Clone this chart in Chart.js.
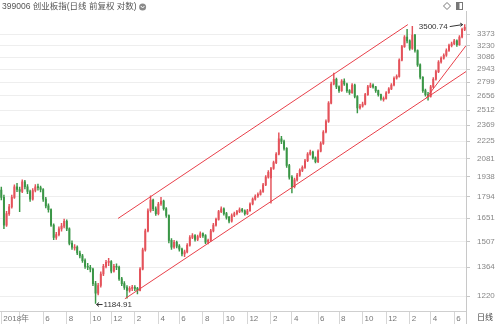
<!DOCTYPE html>
<html>
<head>
<meta charset="utf-8">
<title>399006 创业板指</title>
<script src="https://cdn.jsdelivr.net/npm/chart.js@4.4.1/dist/chart.umd.min.js"></script>
<style>
  html, body { margin: 0; padding: 0; background: #fff; }
  #c { display: block; }
</style>
</head>
<body>
<canvas id="c" width="500" height="324"></canvas>
<script>
// weekly candles, Feb 2018 .. Jun 2021
const opens = [
  1840,1790,1607,1680,1725,1790,1865,1845,1831,1900,
  1865,1831,1777,1838,1865,1858,1845,1777,1731,1706,
  1607,1531,1548,1583,1600,1631,1583,1497,1470,1475,
  1442,1426,1400,1369,1364,1354,1280,1233,1271,1329,
  1369,1390,1395,1344,1369,1364,1304,1280,1261,1247,
  1257,1261,1257,1247,1354,1459,1571,1699,1770,1712,
  1680,1744,1764,1712,1668,1514,1475,1503,1481,1464,
  1437,1448,1486,1531,1542,1520,1537,1554,1542,1503,
  1514,1571,1607,1643,1693,1712,1680,1656,1631,1668,
  1680,1693,1706,1699,1680,1699,1744,1777,1797,1811,
  1831,1879,1936,1930,2002,2048,2117,2247,2223,2165,
  2025,1936,1865,1915,1951,1987,2010,2063,2117,2133,
  2086,2055,2141,2206,2307,2403,2580,2779,2831,2748,
  2708,2810,2779,2708,2687,2769,2648,2532,2551,2570,
  2667,2748,2769,2748,2708,2667,2615,2628,2687,2728,
  2769,2842,2863,3050,3214,3336,3286,3190,3360,3166,
  2994,2853,2708,2667,2648,2748,2831,2917,3027,3073,
  3108,3166,3226,3250,3286,3238,3336,3437
];
const highs = [
  1862,1805,1695,1742,1806,1878,1889,1862,1915,1912,
  1880,1840,1852,1880,1884,1870,1852,1790,1745,1712,
  1615,1562,1596,1618,1645,1640,1590,1512,1490,1482,
  1452,1435,1410,1385,1375,1360,1292,1282,1340,1380,
  1402,1412,1400,1380,1382,1370,1312,1290,1270,1266,
  1272,1270,1262,1362,1470,1582,1712,1800,1778,1725,
  1755,1790,1770,1720,1672,1525,1515,1510,1490,1470,
  1458,1495,1542,1555,1548,1546,1566,1560,1548,1522,
  1580,1618,1652,1702,1725,1718,1688,1662,1678,1690,
  1702,1718,1715,1705,1708,1752,1786,1808,1822,1842,
  1890,1948,1986,2010,2060,2130,2300,2268,2235,2172,
  2035,1948,1928,1965,2000,2022,2075,2130,2150,2142,
  2095,2152,2220,2320,2418,2595,2800,2900,2845,2760,
  2828,2835,2788,2720,2785,2778,2656,2568,2590,2680,
  2765,2790,2782,2755,2715,2672,2645,2700,2742,2785,
  2858,2880,3065,3230,3355,3437,3300,3476,3372,3175,
  3005,2862,2725,2690,2765,2850,2935,3045,3090,3125,
  3185,3245,3272,3305,3298,3355,3455,3500.74
];
const lows = [
  1772,1585,1598,1668,1716,1782,1830,1693,1822,1850,
  1815,1762,1770,1828,1840,1828,1762,1718,1690,1598,
  1518,1520,1540,1570,1590,1572,1488,1462,1458,1432,
  1415,1390,1358,1352,1340,1270,1184.91,1225,1262,1320,
  1360,1372,1335,1338,1352,1296,1270,1252,1210,1238,
  1246,1245,1230,1244,1350,1452,1565,1690,1700,1668,
  1672,1735,1702,1655,1500,1462,1468,1470,1452,1425,
  1421,1442,1480,1525,1510,1512,1530,1532,1495,1494,
  1508,1565,1600,1638,1686,1670,1645,1620,1625,1660,
  1672,1686,1690,1670,1674,1694,1738,1770,1790,1805,
  1825,1872,1928,1750,1995,2040,2110,2205,2150,2010,
  1920,1820,1856,1906,1942,1978,2002,2055,2108,2075,
  2045,2048,2135,2198,2298,2395,2572,2770,2730,2690,
  2700,2765,2690,2668,2680,2632,2485,2520,2540,2562,
  2658,2740,2735,2690,2650,2610,2600,2620,2680,2720,
  2760,2832,2855,3040,3205,3260,3170,3180,3145,2975,
  2835,2690,2650,2610,2640,2738,2820,2905,3015,3060,
  3095,3155,3210,3238,3215,3228,3325,3420
];
const closes = [
  1790,1607,1680,1725,1790,1865,1845,1831,1900,1865,
  1831,1777,1838,1865,1858,1845,1777,1731,1706,1607,
  1531,1548,1583,1600,1631,1583,1497,1475,1475,1442,
  1426,1400,1369,1364,1354,1280,1233,1271,1329,1369,
  1390,1395,1344,1369,1364,1304,1280,1261,1247,1257,
  1261,1257,1247,1354,1459,1571,1699,1770,1712,1680,
  1744,1764,1712,1668,1514,1475,1503,1481,1464,1437,
  1448,1486,1531,1542,1520,1537,1554,1542,1503,1514,
  1571,1607,1643,1693,1712,1680,1656,1631,1668,1680,
  1693,1706,1699,1680,1699,1744,1777,1797,1811,1831,
  1879,1936,1973,2002,2048,2117,2247,2223,2165,2025,
  1936,1865,1915,1951,1987,2010,2063,2117,2133,2086,
  2055,2141,2206,2307,2403,2580,2779,2831,2748,2708,
  2810,2779,2708,2687,2769,2648,2532,2551,2570,2667,
  2748,2769,2748,2708,2667,2628,2628,2687,2728,2769,
  2842,2863,3050,3214,3336,3286,3190,3360,3166,2994,
  2853,2708,2667,2648,2748,2831,2917,3027,3073,3108,
  3166,3226,3250,3286,3238,3336,3437,3462
];

// axis ticks
const yTicks = [1220, 1364, 1507, 1651, 1794, 1938, 2081, 2225, 2369, 2512, 2656, 2799, 2943, 3086, 3230, 3373];
const xTickWeeks = [0, 7, 16, 25, 34, 42, 51, 60, 68, 77, 85, 94, 103, 111, 121, 129, 138, 147, 156, 164, 173];
const xTickLabels = ['2018年', '', '6', '8', '10', '12', '2', '4', '6', '8', '10', '12', '2', '4', '6', '8', '10', '12', '2', '4', '6'];

// hand-drawn trend lines: [week, price]
const upperLine = [[44.6, 1649], [155.3, 3501]];
const lowerLine = [[47.2, 1207], [177.5, 2917]];
const steepLine = [[162.2, 2628], [177.5, 3226]];

const titleText = '399006 创业板指(日线 前复权 对数)';

const RED = '#e4525a';
const GREEN = '#3a9646';
const LINE_RED = '#e8404a';

const candleColors = closes.map((c, i) => c >= opens[i] ? RED : GREEN);
const wicks = closes.map((c, i) => ({ x: i, y: [lows[i], highs[i]] }));
const bodies = closes.map((c, i) => ({ x: i, y: [opens[i], c] }));
const toPts = arr => arr.map(p => ({ x: p[0], y: p[1] }));

Chart.defaults.font.family = '"Liberation Sans", Arial, "Noto Sans CJK SC", sans-serif';

const extras = {
  id: 'extras',
  afterDraw(chart) {
    const { ctx, chartArea: a, scales: { x, y } } = chart;
    ctx.save();
    ctx.textBaseline = 'middle';

    // title + little dropdown dot
    ctx.font = '8.5px "Liberation Sans", Arial, "Noto Sans CJK SC", sans-serif';
    ctx.fillStyle = '#555';
    ctx.textAlign = 'left';
    ctx.fillText(titleText, 2, 7);
    const cx = 2 + ctx.measureText(titleText).width + 6;
    ctx.fillStyle = '#8a8a8a';
    ctx.beginPath(); ctx.arc(cx, 7, 3.5, 0, Math.PI * 2); ctx.fill();
    ctx.strokeStyle = '#fff'; ctx.lineWidth = 1;
    ctx.beginPath(); ctx.moveTo(cx - 1.8, 6); ctx.lineTo(cx, 8); ctx.lineTo(cx + 1.8, 6); ctx.stroke();

    // top right icons
    ctx.strokeStyle = '#777';
    ctx.beginPath();
    ctx.moveTo(447, 2.5); ctx.lineTo(450.5, 6); ctx.lineTo(447, 9.5); ctx.lineTo(443.5, 6);
    ctx.closePath(); ctx.stroke();
    ctx.strokeRect(456.5, 2.5, 6, 7);
    ctx.fillStyle = '#777';
    ctx.fillRect(457, 3, 2.5, 6);

    ctx.font = '8px "Liberation Sans", Arial, "Noto Sans CJK SC", sans-serif';

    // low marker
    const lo = Math.min(...lows), li = lows.indexOf(lo);
    const lx = x.getPixelForValue(li), ly = y.getPixelForValue(lo) + 1;
    ctx.strokeStyle = '#333'; ctx.fillStyle = '#333';
    ctx.beginPath();
    ctx.moveTo(lx + 1, ly); ctx.lineTo(lx + 7, ly);
    ctx.moveTo(lx + 3.5, ly - 2); ctx.lineTo(lx + 1, ly); ctx.lineTo(lx + 3.5, ly + 2);
    ctx.stroke();
    ctx.fillText(lo.toFixed(2), lx + 8, ly);

    // high marker
    const hi = Math.max(...highs), hiI = highs.indexOf(hi);
    const hx = x.getPixelForValue(hiI), hy = y.getPixelForValue(hi);
    ctx.textAlign = 'right';
    ctx.fillText(hi.toFixed(2), hx - 17, hy + 2);
    ctx.beginPath();
    ctx.moveTo(hx - 15, hy + 2); ctx.lineTo(hx - 2, hy);
    ctx.moveTo(hx - 4.5, hy - 1.5); ctx.lineTo(hx - 2, hy); ctx.lineTo(hx - 4.2, hy + 1.8);
    ctx.stroke();

    // period tag and axis line running through the bottom row
    ctx.textAlign = 'left';
    ctx.fillStyle = '#444';
    ctx.fillText('日线', a.right + 11, 318);
    ctx.strokeStyle = '#c8c8c8';
    ctx.beginPath(); ctx.moveTo(a.right + 0.5, a.bottom); ctx.lineTo(a.right + 0.5, 324); ctx.stroke();
    ctx.restore();
  }
};

new Chart(document.getElementById('c'), {
  type: 'bar',
  data: {
    datasets: [
      { type: 'line', data: toPts(upperLine), borderColor: LINE_RED, borderWidth: 1, pointRadius: 0, order: 0 },
      { type: 'line', data: toPts(lowerLine), borderColor: LINE_RED, borderWidth: 1, pointRadius: 0, order: 0 },
      { type: 'line', data: toPts(steepLine), borderColor: LINE_RED, borderWidth: 1, pointRadius: 0, order: 0 },
      { data: bodies, backgroundColor: candleColors, barThickness: 1.3, minBarLength: 1, grouped: false, order: 1 },
      { data: wicks, backgroundColor: candleColors, barThickness: 0.8, grouped: false, order: 2 }
    ]
  },
  options: {
    responsive: false,
    animation: false,
    devicePixelRatio: 1,
    events: [],
    layout: { padding: 0 },
    plugins: { legend: { display: false }, tooltip: { enabled: false } },
    scales: {
      x: {
        type: 'linear',
        offset: false,
        bounds: 'data',
        min: -0.5,
        max: closes.length - 0.5,
        afterBuildTicks: s => {
          s.min = -0.5;
          s.max = closes.length - 0.5;
          s.ticks = xTickWeeks.map(v => ({ value: v }));
        },
        afterFit: s => { s.height = 13; },
        grid: { offset: false, drawOnChartArea: false, drawTicks: true, tickLength: 13, tickColor: '#d6d6d6' },
        border: { color: '#cfcfcf' },
        ticks: {
          autoSkip: false, maxRotation: 0, align: 'start', labelOffset: 2, padding: -10,
          color: '#777', font: { size: 8 },
          callback: (v, i) => xTickLabels[i]
        }
      },
      y: {
        type: 'logarithmic',
        position: 'right',
        min: 1151,
        max: 3679,
        afterBuildTicks: s => { s.ticks = yTicks.map(v => ({ value: v })); },
        afterFit: s => { s.width = 34; },
        grid: { color: '#eeeeee', tickLength: 4, tickColor: '#c8c8c8' },
        border: { color: '#c8c8c8' },
        ticks: { padding: 7, color: '#888', font: { size: 8 }, autoSkip: false, callback: v => String(v) }
      }
    }
  },
  plugins: [extras]
});
</script>
</body>
</html>
